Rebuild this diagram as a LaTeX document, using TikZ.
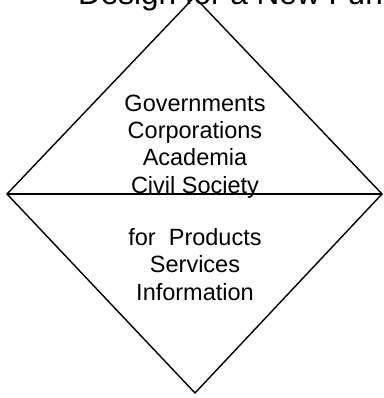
\documentclass[tikz,border=0pt]{standalone}
\usepackage{fontspec}
\setmainfont{Liberation Sans}
\usepackage{tikz}
\usetikzlibrary{positioning, calc}
\tikzset{
    outline/.style={draw=black, line width=1.4pt, line join=miter},
    label/.style={align=center, inner sep=0pt, font=\fontsize{23.5}{27.2}\selectfont},
    heading/.style={inner sep=0pt, font=\fontsize{31.5}{36}\selectfont}
}
\begin{document}
\begin{tikzpicture}[x=1pt, y=-1pt]
        \clip (0,0) rectangle (383,398);
        \fill[white] (0,0) rectangle (383,398);

        % Diamond corners
        \coordinate (top) at (194.5,-3);
        \coordinate (left) at (7,194);
        \coordinate (right) at (382,194);
        \coordinate (bottom) at (195,393);

        % Diamond and middle line
        \draw[outline] (top) -- (right) -- (bottom) -- (left) -- cycle;
        \draw[outline] (left) -- (right);

        % Title (cut off by the frame)
        \node[heading, anchor=base west] (title) at (78,5) {Design for a New Fun};

        % Upper half
        \node[label, anchor=base] (actors) at (195,193) {
            Governments\\
            Corporations\\
            Academia\\
            Civil Society
        };

        % Lower half
        \node[label, anchor=base] (outputs) at (195,300) {
            for\ \ Products\\
            Services\\
            Information
        };
    \end{tikzpicture}
\end{document}
